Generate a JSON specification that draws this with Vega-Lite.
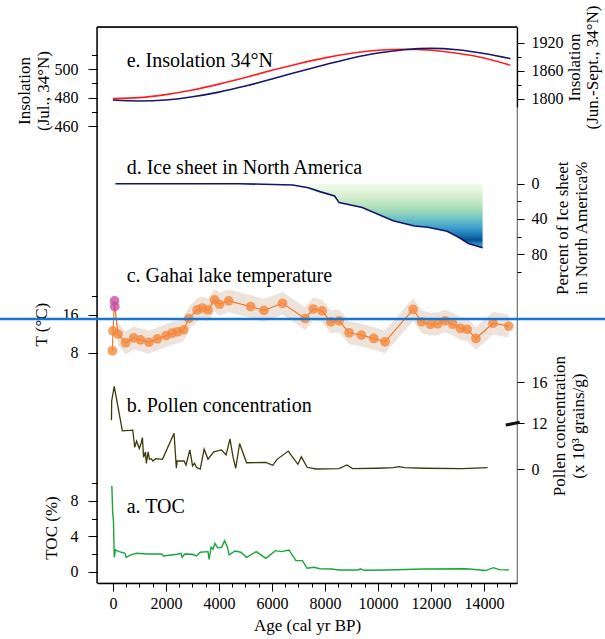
{
  "$schema": "https://vega.github.io/schema/vega-lite/v6.json",
  "width": 420,
  "height": 556,
  "autosize": "none",
  "padding": {"left": 97, "top": 27, "right": 88, "bottom": 56},
  "config": {
    "font": "Liberation Serif",
    "view": {"stroke": "#707070", "strokeWidth": 1.2},
    "axis": {
      "labelFont": "Liberation Serif", "labelFontSize": 16, "labelColor": "#000",
      "titleFont": "Liberation Serif", "titleFontSize": 17, "titleFontWeight": "normal", "titleColor": "#000",
      "tickColor": "#000", "tickWidth": 1, "domain": false, "grid": false,
      "titleLineHeight": 19, "labelPadding": 2, "titlePadding": 4
    }
  },
  "datasets": {
    "ins": [
      {"age": 0, "jul": 479.3, "junsep": 1797},
      {"age": 1000, "jul": 480.0, "junsep": 1795},
      {"age": 2000, "jul": 482.1, "junsep": 1797},
      {"age": 3000, "jul": 485.3, "junsep": 1804},
      {"age": 4000, "jul": 489.5, "junsep": 1814},
      {"age": 5000, "jul": 494.2, "junsep": 1827},
      {"age": 6000, "jul": 499.2, "junsep": 1842},
      {"age": 7000, "jul": 503.9, "junsep": 1858},
      {"age": 8000, "jul": 508.0, "junsep": 1873},
      {"age": 9000, "jul": 511.2, "junsep": 1887},
      {"age": 10000, "jul": 513.3, "junsep": 1898},
      {"age": 11000, "jul": 514.0, "junsep": 1905},
      {"age": 12000, "jul": 513.3, "junsep": 1908},
      {"age": 13000, "jul": 511.2, "junsep": 1905},
      {"age": 14000, "jul": 507.9, "junsep": 1897},
      {"age": 15000, "jul": 502.8, "junsep": 1886}
    ],
    "ice": [
      {"age": 95, "ice": 0},
      {"age": 4753, "ice": 0},
      {"age": 6790, "ice": 1.5},
      {"age": 7373, "ice": 4.5},
      {"age": 7810, "ice": 9},
      {"age": 8363, "ice": 14},
      {"age": 8538, "ice": 21.5},
      {"age": 9410, "ice": 27},
      {"age": 10575, "ice": 42},
      {"age": 11375, "ice": 48},
      {"age": 11885, "ice": 49.5},
      {"age": 12613, "ice": 54},
      {"age": 13050, "ice": 61},
      {"age": 13414, "ice": 68},
      {"age": 13952, "ice": 72.7}
    ],
    "temp": [
      {"age": -20, "t": 8.4, "lo": 7.6, "hi": 9.2, "site": "core"},
      {"age": 5, "t": 12.6, "lo": 11.8, "hi": 13.4, "site": "core"},
      {"age": 60, "t": 18.9, "lo": 18.1, "hi": 19.7, "site": "surface"},
      {"age": 70, "t": 17.7, "lo": 16.9, "hi": 18.5, "site": "surface"},
      {"age": 194, "t": 11.9, "lo": 9.5, "hi": 14.3, "site": "core"},
      {"age": 480, "t": 10.1, "lo": 7.7, "hi": 12.5, "site": "core"},
      {"age": 780, "t": 11.1, "lo": 8.7, "hi": 13.5, "site": "core"},
      {"age": 1045, "t": 10.7, "lo": 8.3, "hi": 13.1, "site": "core"},
      {"age": 1360, "t": 10.2, "lo": 7.8, "hi": 12.6, "site": "core"},
      {"age": 1675, "t": 10.9, "lo": 8.5, "hi": 13.3, "site": "core"},
      {"age": 2005, "t": 11.6, "lo": 9.2, "hi": 14.0, "site": "core"},
      {"age": 2232, "t": 12.1, "lo": 9.7, "hi": 14.5, "site": "core"},
      {"age": 2435, "t": 12.4, "lo": 10.0, "hi": 14.8, "site": "core"},
      {"age": 2670, "t": 12.8, "lo": 10.4, "hi": 15.2, "site": "core"},
      {"age": 2860, "t": 15.2, "lo": 12.8, "hi": 17.6, "site": "core"},
      {"age": 3180, "t": 17.0, "lo": 14.6, "hi": 19.4, "site": "core"},
      {"age": 3370, "t": 17.4, "lo": 15.0, "hi": 19.8, "site": "core"},
      {"age": 3590, "t": 17.0, "lo": 14.6, "hi": 19.4, "site": "core"},
      {"age": 3835, "t": 19.1, "lo": 16.7, "hi": 21.5, "site": "core"},
      {"age": 4023, "t": 18.2, "lo": 15.8, "hi": 20.6, "site": "core"},
      {"age": 4370, "t": 18.9, "lo": 16.5, "hi": 21.3, "site": "core"},
      {"age": 5200, "t": 17.7, "lo": 15.3, "hi": 20.1, "site": "core"},
      {"age": 5700, "t": 16.9, "lo": 14.5, "hi": 19.3, "site": "core"},
      {"age": 6400, "t": 18.4, "lo": 16.0, "hi": 20.8, "site": "core"},
      {"age": 7254, "t": 15.2, "lo": 12.8, "hi": 17.6, "site": "core"},
      {"age": 7560, "t": 17.2, "lo": 14.8, "hi": 19.6, "site": "core"},
      {"age": 7895, "t": 16.8, "lo": 14.4, "hi": 19.2, "site": "core"},
      {"age": 8220, "t": 14.5, "lo": 12.1, "hi": 16.9, "site": "core"},
      {"age": 8535, "t": 14.7, "lo": 12.3, "hi": 17.1, "site": "core"},
      {"age": 8913, "t": 12.2, "lo": 9.8, "hi": 14.6, "site": "core"},
      {"age": 9380, "t": 11.7, "lo": 9.3, "hi": 14.1, "site": "core"},
      {"age": 9845, "t": 11.0, "lo": 8.6, "hi": 13.4, "site": "core"},
      {"age": 10270, "t": 10.3, "lo": 7.9, "hi": 12.7, "site": "core"},
      {"age": 11330, "t": 17.1, "lo": 14.7, "hi": 19.5, "site": "core"},
      {"age": 11650, "t": 14.5, "lo": 12.1, "hi": 16.9, "site": "core"},
      {"age": 11985, "t": 14.0, "lo": 11.6, "hi": 16.4, "site": "core"},
      {"age": 12260, "t": 14.1, "lo": 11.7, "hi": 16.5, "site": "core"},
      {"age": 12535, "t": 14.7, "lo": 12.3, "hi": 17.1, "site": "core"},
      {"age": 12830, "t": 14.0, "lo": 11.6, "hi": 16.4, "site": "core"},
      {"age": 13120, "t": 13.1, "lo": 10.7, "hi": 15.5, "site": "core"},
      {"age": 13367, "t": 12.9, "lo": 10.5, "hi": 15.3, "site": "core"},
      {"age": 13700, "t": 11.0, "lo": 8.6, "hi": 13.4, "site": "core"},
      {"age": 14343, "t": 14.2, "lo": 11.8, "hi": 16.6, "site": "core"},
      {"age": 14940, "t": 13.6, "lo": 11.2, "hi": 16.0, "site": "core"}
    ],
    "pollen": [
      {"age": -55, "p": 12.3}, {"age": -45, "p": 14.2}, {"age": 51, "p": 15.6},
      {"age": 357, "p": 10.0}, {"age": 750, "p": 10.2}, {"age": 822, "p": 5.7},
      {"age": 895, "p": 7.35}, {"age": 997, "p": 5.4}, {"age": 1070, "p": 6.9},
      {"age": 1114, "p": 8.2}, {"age": 1158, "p": 3.1}, {"age": 1230, "p": 4.5},
      {"age": 1260, "p": 1.5}, {"age": 1332, "p": 4.5}, {"age": 1376, "p": 2.55},
      {"age": 1449, "p": 2.7}, {"age": 1507, "p": 2.1}, {"age": 1623, "p": 2.7},
      {"age": 1871, "p": 2.55}, {"age": 2308, "p": 9.4}, {"age": 2395, "p": 0.2},
      {"age": 2424, "p": 2.1}, {"age": 2686, "p": 2.1}, {"age": 2759, "p": 1.05},
      {"age": 2904, "p": 5.0}, {"age": 3006, "p": 0.8}, {"age": 3079, "p": 1.5},
      {"age": 3152, "p": 0.45}, {"age": 3297, "p": 0.0}, {"age": 3443, "p": 5.2},
      {"age": 3588, "p": 2.6}, {"age": 3807, "p": 4.5}, {"age": 4098, "p": 5.0},
      {"age": 4272, "p": 3.7}, {"age": 4418, "p": 7.9}, {"age": 4534, "p": 3.1},
      {"age": 4636, "p": 0.2}, {"age": 4782, "p": 6.7}, {"age": 5044, "p": 1.65},
      {"age": 5771, "p": 1.75}, {"age": 6033, "p": 0.97}, {"age": 6208, "p": 2.6},
      {"age": 6616, "p": 4.7}, {"age": 6980, "p": 1.23}, {"age": 7111, "p": 3.2},
      {"age": 7329, "p": 0.45}, {"age": 7664, "p": 0.0}, {"age": 8537, "p": 0.1},
      {"age": 8829, "p": 1.05}, {"age": 9047, "p": 0.1}, {"age": 9993, "p": 0.2},
      {"age": 10575, "p": 0.35}, {"age": 10793, "p": 0.6}, {"age": 11012, "p": 0.35},
      {"age": 11740, "p": 0.2}, {"age": 13195, "p": 0.1}, {"age": 14141, "p": 0.35}
    ],
    "toc": [
      {"age": -40, "toc": 9.7}, {"age": -7, "toc": 6.6}, {"age": 22, "toc": 5.66},
      {"age": 51, "toc": 1.63}, {"age": 95, "toc": 2.46}, {"age": 240, "toc": 2.27},
      {"age": 459, "toc": 2.08}, {"age": 502, "toc": 1.63}, {"age": 677, "toc": 1.9},
      {"age": 895, "toc": 2.08}, {"age": 1300, "toc": 2.0}, {"age": 1842, "toc": 2.0},
      {"age": 1914, "toc": 1.78}, {"age": 2424, "toc": 1.97}, {"age": 2570, "toc": 2.08},
      {"age": 2613, "toc": 1.63}, {"age": 2715, "toc": 2.0}, {"age": 3006, "toc": 1.97},
      {"age": 3152, "toc": 1.78}, {"age": 3297, "toc": 2.2}, {"age": 3588, "toc": 2.27},
      {"age": 3632, "toc": 1.4}, {"age": 3705, "toc": 2.76}, {"age": 3778, "toc": 2.54},
      {"age": 3850, "toc": 3.2}, {"age": 3952, "toc": 2.7}, {"age": 4098, "toc": 2.76},
      {"age": 4214, "toc": 3.5}, {"age": 4316, "toc": 2.83}, {"age": 4389, "toc": 1.9},
      {"age": 4607, "toc": 2.34}, {"age": 4826, "toc": 2.2}, {"age": 5044, "toc": 1.63},
      {"age": 5408, "toc": 2.27}, {"age": 5771, "toc": 1.52}, {"age": 6135, "toc": 2.38},
      {"age": 6354, "toc": 2.27}, {"age": 6645, "toc": 2.46}, {"age": 6907, "toc": 1.25},
      {"age": 7154, "toc": 1.25}, {"age": 7329, "toc": 0.39}, {"age": 7591, "toc": 0.5},
      {"age": 7810, "toc": 0.33}, {"age": 8247, "toc": 0.3}, {"age": 8538, "toc": 0.2},
      {"age": 9265, "toc": 0.2}, {"age": 9338, "toc": 0.33}, {"age": 9483, "toc": 0.16},
      {"age": 10284, "toc": 0.2}, {"age": 11740, "toc": 0.3}, {"age": 13341, "toc": 0.33},
      {"age": 14068, "toc": 0.13}, {"age": 14360, "toc": 0.46}, {"age": 14578, "toc": 0.24},
      {"age": 14941, "toc": 0.2}
    ]
  },
  "layer": [
    {
      "data": {"name": "toc"},
      "mark": {"type": "line", "color": "#17a63a", "strokeWidth": 1.4},
      "encoding": {
        "x": {"field": "age", "type": "quantitative", "scale": {"domain": [-600, 15250], "nice": false, "zero": false},
          "axis": {"orient": "bottom", "values": [0, 500, 1000, 1500, 2000, 2500, 3000, 3500, 4000, 4500, 5000, 5500, 6000, 6500, 7000, 7500, 8000, 8500, 9000, 9500, 10000, 10500, 11000, 11500, 12000, 12500, 13000, 13500, 14000, 14500, 15000],
            "tickSize": 4, "labels": false,
            "domain": true, "domainColor": "#000", "domainWidth": 1.3,
            "title": null}},
        "y": {"field": "toc", "type": "quantitative",
          "scale": {"domain": [0, 10], "range": [544.7, 456.3], "nice": false, "zero": false},
          "axis": {"orient": "left", "values": [0, 2, 4, 6, 8, 10],
            "labelExpr": "datum.value % 4 === 0 ? datum.label : ''",
            "tickSize": {"condition": {"test": "datum.value % 4 === 0", "value": 9}, "value": 5.5},
            "labelPadding": 10, "titlePadding": 10,
            "title": "TOC (%)"}}
      }
    },
    {
      "data": {"values": [{}]},
      "layer": [
        {
          "mark": {"type": "rule", "color": "#000", "strokeWidth": 1.3},
          "encoding": {
            "x": {"datum": -600, "type": "quantitative", "scale": {"domain": [-600, 15250], "nice": false, "zero": false}, "axis": null},
            "y": {"datum": 0, "type": "quantitative", "scale": {"domain": [0, 1], "range": [556, 0], "nice": false, "zero": false}, "axis": null},
            "y2": {"datum": 1}
          }
        },
        {
          "mark": {"type": "rule", "color": "#000", "strokeWidth": 1.3},
          "encoding": {
            "x": {"datum": -600, "type": "quantitative", "scale": {"domain": [-600, 15250], "nice": false, "zero": false}, "axis": null},
            "x2": {"datum": 15250},
            "y": {"datum": 1, "type": "quantitative", "scale": {"domain": [0, 1], "range": [556, 0], "nice": false, "zero": false}, "axis": null}
          }
        },
        {
          "mark": {"type": "text", "font": "Liberation Serif", "fontSize": 20, "align": "left", "baseline": "middle", "color": "#000"},
          "encoding": {
            "x": {"datum": 520, "type": "quantitative", "scale": {"domain": [-600, 15250], "nice": false, "zero": false}, "axis": null},
            "y": {"datum": 0.137, "type": "quantitative", "scale": {"domain": [0, 1], "range": [556, 0], "nice": false, "zero": false}, "axis": null},
            "text": {"value": "a. TOC"}
          }
        }
      ]
    },
    {
      "layer": [
        {
          "data": {"name": "ins"},
          "mark": {"type": "line", "color": "#ff1f1f", "strokeWidth": 1.6, "interpolate": "monotone"},
          "encoding": {
            "x": {"field": "age", "type": "quantitative", "scale": {"domain": [-600, 15250], "nice": false, "zero": false}, "axis": null},
            "y": {"field": "jul", "type": "quantitative",
              "scale": {"domain": [460, 510], "range": [99, 28], "nice": false, "zero": false},
              "axis": {"orient": "left", "values": [460, 470, 480, 490, 500, 510],
                "labelExpr": "datum.value % 20 === 0 ? datum.label : ''",
                "tickSize": {"condition": {"test": "datum.value % 20 === 0", "value": 9}, "value": 5.5},
                "labelPadding": 10, "titlePadding": 2,
                "title": ["Insolation", "(Jul., 34°N)"]}}
          }
        },
        {
          "data": {"values": [{}]},
          "mark": {"type": "text", "font": "Liberation Serif", "fontSize": 20, "align": "left", "baseline": "middle", "color": "#000"},
          "encoding": {
            "x": {"datum": 520, "type": "quantitative", "scale": {"domain": [-600, 15250], "nice": false, "zero": false}, "axis": null},
            "y": {"datum": 505.9, "type": "quantitative"},
            "text": {"value": "e. Insolation 34°N"}
          }
        }
      ]
    },
    {
      "data": {"name": "ins"},
      "mark": {"type": "line", "color": "#17176b", "strokeWidth": 1.6, "interpolate": "monotone"},
      "encoding": {
        "x": {"field": "age", "type": "quantitative", "scale": {"domain": [-600, 15250], "nice": false, "zero": false},
          "axis": {"orient": "bottom", "values": [0, 2000, 4000, 6000, 8000, 10000, 12000, 14000],
            "format": "d", "tickSize": 8, "labelPadding": 4, "titlePadding": 6,
            "title": "Age (cal yr BP)"}},
        "y": {"field": "junsep", "type": "quantitative",
          "scale": {"domain": [1782, 1954], "range": [80, 0], "nice": false, "zero": false},
          "axis": {"orient": "right", "values": [1800, 1830, 1860, 1890, 1920], "format": "d",
            "labelExpr": "datum.value % 60 === 0 ? datum.label : ''",
            "tickSize": {"condition": {"test": "datum.value % 60 === 0", "value": 7}, "value": 4},
            "domain": true, "domainColor": "#000", "domainWidth": 1.3,
            "labelPadding": 7, "titleX": 49, "titleLineHeight": 18,
            "titleAngle": 270, "titleBaseline": "top",
            "title": ["Insolation", "(Jun.-Sept., 34°N)"]}}
      }
    },
    {
      "layer": [
        {
          "data": {"name": "ice"},
          "transform": [{"filter": "datum.age >= 7373"}],
          "mark": {"type": "area", "color": {"gradient": "linear", "x1": 0, "y1": 0, "x2": 0, "y2": 1,
            "stops": [
              {"offset": 0, "color": "#f2faec"},
              {"offset": 0.2, "color": "#d6efcf"},
              {"offset": 0.4, "color": "#a6dcb6"},
              {"offset": 0.55, "color": "#6cc2c8"},
              {"offset": 0.68, "color": "#3fa2cc"},
              {"offset": 0.8, "color": "#1b78b4"},
              {"offset": 0.88, "color": "#0a4f92"},
              {"offset": 0.94, "color": "#2f86c4"},
              {"offset": 1, "color": "#3a8fc9"}
            ]}},
          "encoding": {
            "x": {"field": "age", "type": "quantitative", "scale": {"domain": [-600, 15250], "nice": false, "zero": false}, "axis": null},
            "y": {"field": "ice", "type": "quantitative",
              "scale": {"domain": [0, 100], "range": [156.7, 244.7], "nice": false, "zero": false},
              "axis": {"orient": "right", "values": [0, 20, 40, 60, 80, 100],
                "labelExpr": "datum.value % 40 === 0 ? datum.label : ''",
                "tickSize": {"condition": {"test": "datum.value % 40 === 0", "value": 7}, "value": 4},
                "labelPadding": 7, "titleX": 37,
                "titleAngle": 270, "titleBaseline": "top",
                "title": ["Percent of Ice sheet", "in North America%"]}},
            "y2": {"datum": 0}
          }
        },
        {
          "data": {"name": "ice"},
          "mark": {"type": "line", "color": "#14146b", "strokeWidth": 1.6},
          "encoding": {
            "x": {"field": "age", "type": "quantitative", "scale": {"domain": [-600, 15250], "nice": false, "zero": false}, "axis": null},
            "y": {"field": "ice", "type": "quantitative"}
          }
        },
        {
          "data": {"values": [{}]},
          "mark": {"type": "text", "font": "Liberation Serif", "fontSize": 20, "align": "left", "baseline": "middle", "color": "#000"},
          "encoding": {
            "x": {"datum": 520, "type": "quantitative", "scale": {"domain": [-600, 15250], "nice": false, "zero": false}, "axis": null},
            "y": {"datum": -17.3, "type": "quantitative"},
            "text": {"value": "d. Ice sheet in North America"}
          }
        }
      ]
    },
    {
      "layer": [
        {
          "data": {"name": "temp"},
          "mark": {"type": "area", "color": "#e8dcd2", "opacity": 0.8},
          "encoding": {
            "x": {"field": "age", "type": "quantitative", "scale": {"domain": [-600, 15250], "nice": false, "zero": false}, "axis": null},
            "y": {"field": "hi", "type": "quantitative",
              "scale": {"domain": [8, 20], "range": [325.7, 268.7], "nice": false, "zero": false},
              "axis": {"orient": "left", "values": [8, 16, 20],
                "labelExpr": "datum.value % 8 === 0 ? datum.label : ''",
                "tickSize": {"condition": {"test": "datum.value % 8 === 0", "value": 9}, "value": 5.5},
                "labelPadding": 10, "titlePadding": 12,
                "title": "T (°C)"}},
            "y2": {"field": "lo"}
          }
        },
        {
          "data": {"name": "temp"},
          "mark": {"type": "line", "color": "#f07a2a", "strokeWidth": 1.2},
          "encoding": {
            "x": {"field": "age", "type": "quantitative", "scale": {"domain": [-600, 15250], "nice": false, "zero": false}, "axis": null},
            "y": {"field": "t", "type": "quantitative"}
          }
        },
        {
          "data": {"name": "temp"},
          "mark": {"type": "circle", "size": 95, "opacity": 0.78},
          "encoding": {
            "x": {"field": "age", "type": "quantitative", "scale": {"domain": [-600, 15250], "nice": false, "zero": false}, "axis": null},
            "y": {"field": "t", "type": "quantitative"},
            "color": {"field": "site", "type": "nominal", "scale": {"domain": ["core", "surface"], "range": ["#f5873a", "#c54d9c"]}, "legend": null}
          }
        },
        {
          "data": {"values": [{}]},
          "mark": {"type": "text", "font": "Liberation Serif", "fontSize": 20, "align": "left", "baseline": "middle", "color": "#000"},
          "encoding": {
            "x": {"datum": 520, "type": "quantitative", "scale": {"domain": [-600, 15250], "nice": false, "zero": false}, "axis": null},
            "y": {"datum": 24.1, "type": "quantitative"},
            "text": {"value": "c. Gahai lake temperature"}
          }
        },
        {
          "data": {"values": [{}]},
          "mark": {"type": "rule", "color": "#1677d2", "strokeWidth": 2.5},
          "encoding": {
            "x": {"datum": -4300, "type": "quantitative", "scale": {"domain": [-600, 15250], "nice": false, "zero": false}, "axis": null},
            "x2": {"datum": 18600},
            "y": {"datum": 15.1, "type": "quantitative"}
          }
        }
      ]
    },
    {
      "layer": [
        {
          "data": {"name": "pollen"},
          "mark": {"type": "line", "color": "#3a3a0c", "strokeWidth": 1.3},
          "encoding": {
            "x": {"field": "age", "type": "quantitative", "scale": {"domain": [-600, 15250], "nice": false, "zero": false}, "axis": null},
            "y": {"field": "p", "type": "quantitative",
              "scale": {"domain": [0, 12, 16], "range": [442, 396.3, 355.3], "nice": false, "zero": false},
              "axis": {"orient": "right", "values": [0, 12, 16], "tickSize": 7,
                "labelPadding": 7, "titleX": 34,
                "titleAngle": 270, "titleBaseline": "top",
                "title": ["Pollen concentration", "(x 10³ grains/g)"]}}
          }
        },
        {
          "data": {"values": [{}]},
          "mark": {"type": "point", "shape": "M-1,0.2L1,-0.2", "filled": false, "stroke": "#111", "strokeWidth": 3, "size": 196, "opacity": 1},
          "encoding": {
            "x": {"datum": 15090, "type": "quantitative", "scale": {"domain": [-600, 15250], "nice": false, "zero": false}, "axis": null},
            "y": {"datum": 11.9, "type": "quantitative"}
          }
        },
        {
          "data": {"values": [{}]},
          "mark": {"type": "text", "font": "Liberation Serif", "fontSize": 20, "align": "left", "baseline": "middle", "color": "#000"},
          "encoding": {
            "x": {"datum": 520, "type": "quantitative", "scale": {"domain": [-600, 15250], "nice": false, "zero": false}, "axis": null},
            "y": {"datum": 13.64, "type": "quantitative"},
            "text": {"value": "b. Pollen concentration"}
          }
        }
      ]
    }
  ],
  "resolve": {"scale": {"y": "independent"}, "axis": {"x": "independent"}}
}
